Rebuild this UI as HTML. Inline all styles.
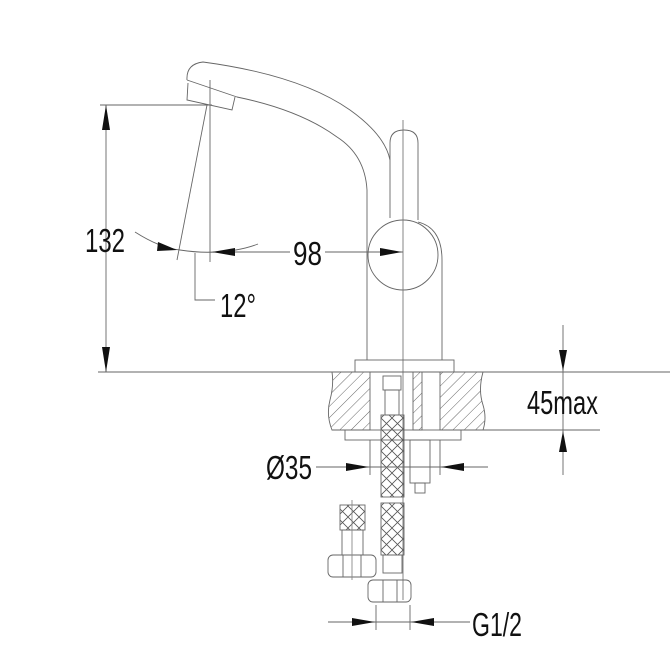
<!DOCTYPE html>
<html><head><style>html,body{margin:0;padding:0;background:#fff}svg{display:block}text{font-family:"Liberation Sans",sans-serif;fill:#111}</style></head>
<body>
<svg width="670" height="665" viewBox="0 0 670 665" xmlns="http://www.w3.org/2000/svg">
<defs>
<pattern id="h" width="8" height="8" patternUnits="userSpaceOnUse" patternTransform="rotate(45)"><line x1="0" y1="0" x2="0" y2="8" stroke="#555" stroke-width="0.9"/></pattern>
<pattern id="x" width="11" height="11" patternUnits="userSpaceOnUse" x="381"><path d="M0 0L11 11M11 0L0 11" stroke="#555" stroke-width="0.8"/></pattern>
</defs>
<g fill="none" stroke="#666" stroke-width="0.9">
<path d="M187 80 Q186 64 203 62 Q300 75 350 110 Q385 135 390 160"/>
<path d="M187 80 L237 97 Q300 110 337 137 Q365 155 367 190 L367 360"/>
<path d="M188 83 L187 100 L232 110 L235 97"/>
<path d="M390 218 L390 143 Q390 130 404 130 Q418 130 418 143 L418 220"/>
<circle cx="403" cy="255" r="35"/>
<path d="M418 222 Q442 228 442 260 L442 360"/>
<line x1="403" y1="120" x2="403" y2="600" stroke="#777"/>
<rect x="355" y="360" width="99" height="12"/>
<path d="M332 372 L370 372 L370 430 L332 430 Q326 415 330 400 Q334 385 332 372Z" fill="url(#h)"/>
<path d="M440 372 L483 372 Q478 390 483 405 Q487 418 483 430 L440 430Z" fill="url(#h)"/>
<rect x="345" y="430" width="116" height="10"/>
<rect x="383" y="376" width="18" height="14"/>
<rect x="385" y="390" width="14" height="25"/>
<rect x="381" y="415" width="23" height="82" fill="url(#x)"/>
<rect x="381" y="503" width="23" height="52" fill="url(#x)"/>
<rect x="383" y="555" width="19" height="18"/>
<rect x="368" y="580" width="43" height="22" rx="5"/>
<line x1="383" y1="580" x2="383" y2="602"/><line x1="397" y1="580" x2="397" y2="602"/>
<rect x="413" y="372" width="9" height="58" fill="url(#h)"/>
<rect x="410" y="440" width="20" height="43"/>
<rect x="415" y="483" width="10" height="10"/>
<rect x="340" y="505" width="25" height="25" fill="url(#x)"/>
<rect x="342" y="530" width="21" height="25"/>
<rect x="328" y="555" width="48" height="22" rx="5"/>
<line x1="343" y1="555" x2="343" y2="577"/><line x1="361" y1="555" x2="361" y2="577"/>
<line x1="352" y1="500" x2="352" y2="580" stroke="#888"/>
<line x1="100" y1="105" x2="212" y2="105"/>
<line x1="98" y1="372" x2="670" y2="372"/>
<line x1="106" y1="105" x2="106" y2="372"/>
<line x1="210" y1="80" x2="210" y2="262"/>
<line x1="207" y1="105" x2="177" y2="260"/>
<path d="M135 232 Q160 248 180 250 Q200 253 215 252 Q240 251 258 244"/>
<line x1="215" y1="252" x2="290" y2="252"/><line x1="325" y1="252" x2="403" y2="252"/>
<polyline points="195,253 195,300 215,300"/>
<line x1="470" y1="430" x2="600" y2="430"/>
<line x1="563" y1="325" x2="563" y2="475"/>
<line x1="316" y1="467" x2="488" y2="467"/>
<line x1="370" y1="440" x2="370" y2="475"/><line x1="440" y1="440" x2="440" y2="475"/>
<line x1="328" y1="622" x2="470" y2="622"/>
<line x1="376" y1="605" x2="376" y2="630"/><line x1="410" y1="605" x2="410" y2="630"/>
</g>
<g fill="#111">
<path d="M106 105 L102 130 L110 130Z"/><path d="M106 372 L102 347 L110 347Z"/>
<path d="M177 250 L158 242 L157 251Z"/>
<path d="M212 252 L235 248 L235 256Z"/>
<path d="M402 252 L380 248 L380 256Z"/>
<path d="M563 371 L559 350 L567 350Z"/><path d="M563 431 L559 452 L567 452Z"/>
<path d="M369 467 L346 463 L346 471Z"/><path d="M441 467 L464 463 L464 471Z"/>
<path d="M375 622 L352 618 L352 626Z"/><path d="M411 622 L434 618 L434 626Z"/>
</g>
<g font-size="33">
<text x="85" y="252" textLength="40" lengthAdjust="spacingAndGlyphs">132</text>
<text x="293" y="265" textLength="29" lengthAdjust="spacingAndGlyphs">98</text>
<text x="220" y="317" textLength="36" lengthAdjust="spacingAndGlyphs">12°</text>
<text x="527" y="414" textLength="71" lengthAdjust="spacingAndGlyphs">45max</text>
<text x="266" y="479" textLength="46" lengthAdjust="spacingAndGlyphs">Ø35</text>
<text x="472" y="636" textLength="50" lengthAdjust="spacingAndGlyphs">G1/2</text>
</g>
</svg>
</body></html>
